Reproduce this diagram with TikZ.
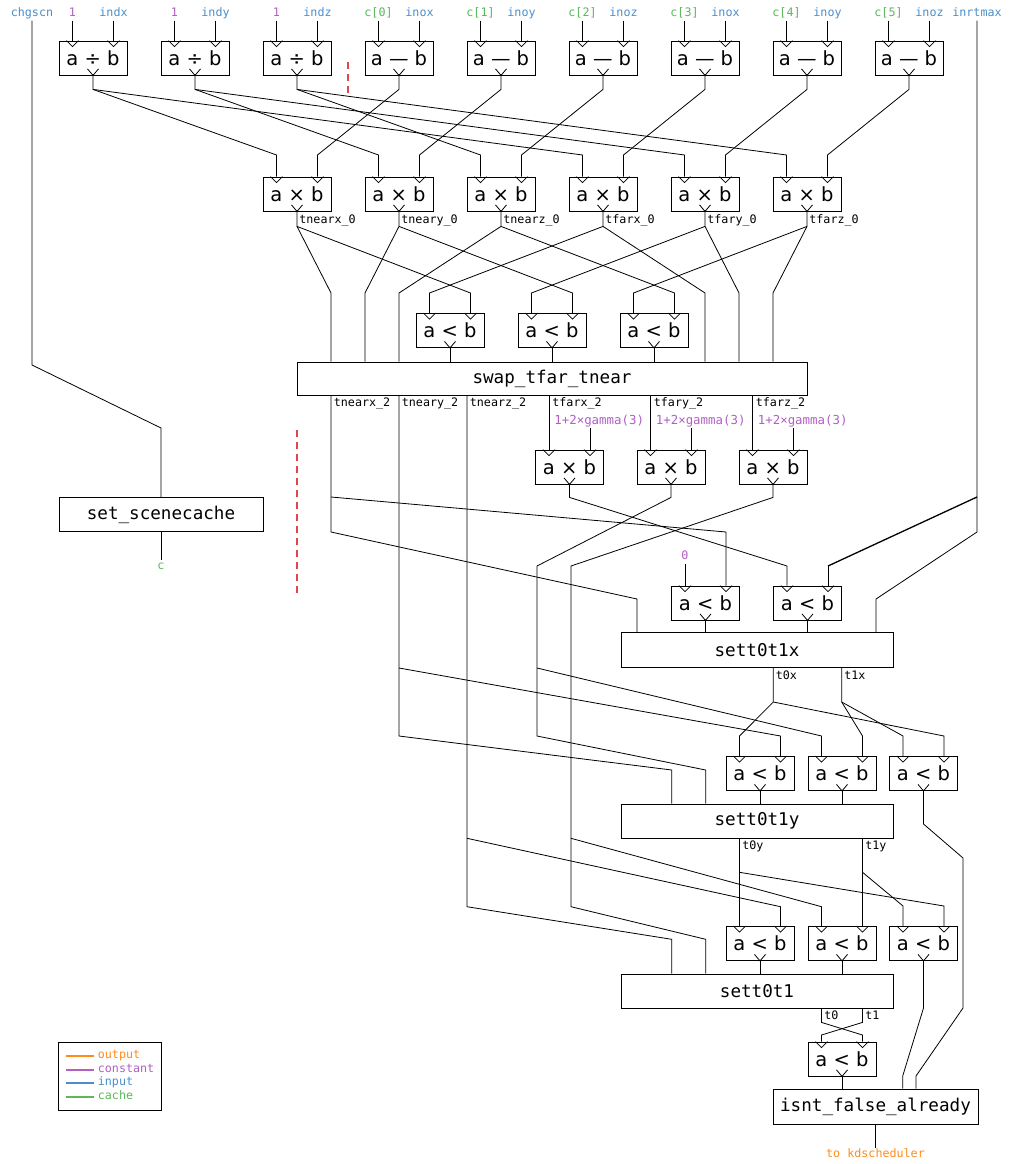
\documentclass[tikz,border=0pt]{standalone}
\usepackage{fontspec}
\setmainfont{DejaVu Sans}
\newfontfamily\monof{DejaVu Sans Mono}
\usetikzlibrary{calc}
\definecolor{cin}{HTML}{4A8FCB}
\definecolor{ccon}{HTML}{B15FC3}
\definecolor{ccache}{HTML}{5BB85B}
\definecolor{cout}{HTML}{FF8C1A}
\definecolor{cred}{HTML}{E0474C}
\newcommand\opfont{\fontsize{19.5}{21}\selectfont}
\newcommand\bigfont{\monof\fontsize{17.6}{20}\selectfont}
\newcommand\labfont{\monof\fontsize{11.7}{13}\selectfont}
\newcommand\gamfont{\monof\fontsize{12.4}{13}\selectfont}
\tikzset{
 opnode/.style={draw, minimum width=68pt, minimum height=34pt, inner sep=0pt, font=\opfont},
 bignode/.style={draw, inner sep=0pt, font=\bigfont},
 lab/.style={inner sep=1pt, font=\labfont, text height=8pt, text depth=2.5pt},
 reddash/.style={draw=cred, line width=1.1pt, dash pattern=on 7pt off 5pt},
 legline/.style={line width=2pt},
}
\newcommand\opbox[4]{%
  \node[opnode] (#1) at (#2,#3) {#4};
  \coordinate (#1-a) at ($(#1.north)+(-20.5,0)$);
  \coordinate (#1-b) at ($(#1.north)+(20.5,0)$);
  \coordinate (#1-o) at (#1.south);
  \draw ($(#1-a)+(-6,0)$) -- ++(6,6) -- ++(6,-6);
  \draw ($(#1-b)+(-6,0)$) -- ++(6,6) -- ++(6,-6);
  \draw ($(#1-o)+(-5.5,-6.5)$) -- (#1-o) -- ++(5.5,-6.5);
}
\begin{document}
\begin{tikzpicture}[x=1pt,y=-1pt,line width=0.8pt]
\fill[white] (0,0) rectangle (1014,1164);
\useasboundingbox (0,0) rectangle (1014,1164);

% ---------- row 1 ----------
\opbox{d1}{93}{58}{a ÷ b}
\opbox{d2}{195}{58}{a ÷ b}
\opbox{d3}{297}{58}{a ÷ b}
\opbox{s1}{399}{58}{a — b}
\opbox{s2}{501}{58}{a — b}
\opbox{s3}{603}{58}{a — b}
\opbox{s4}{705}{58}{a — b}
\opbox{s5}{807}{58}{a — b}
\opbox{s6}{909}{58}{a — b}

% top labels
\node[lab,text=cin] (Lchg) at (32,14) {chgscn};
\node[lab,text=cin] (Linr) at (977,14) {inrtmax};
\node[lab,text=ccon] (Ld1a) at (d1-a |- 0,14) {1};
\node[lab,text=cin] (Ld1b) at (d1-b |- 0,14) {indx};
\node[lab,text=ccon] (Ld2a) at (d2-a |- 0,14) {1};
\node[lab,text=cin] (Ld2b) at (d2-b |- 0,14) {indy};
\node[lab,text=ccon] (Ld3a) at (d3-a |- 0,14) {1};
\node[lab,text=cin] (Ld3b) at (d3-b |- 0,14) {indz};
\node[lab,text=ccache] (Ls1a) at (s1-a |- 0,14) {c[0]};
\node[lab,text=cin] (Ls1b) at (s1-b |- 0,14) {inox};
\node[lab,text=ccache] (Ls2a) at (s2-a |- 0,14) {c[1]};
\node[lab,text=cin] (Ls2b) at (s2-b |- 0,14) {inoy};
\node[lab,text=ccache] (Ls3a) at (s3-a |- 0,14) {c[2]};
\node[lab,text=cin] (Ls3b) at (s3-b |- 0,14) {inoz};
\node[lab,text=ccache] (Ls4a) at (s4-a |- 0,14) {c[3]};
\node[lab,text=cin] (Ls4b) at (s4-b |- 0,14) {inox};
\node[lab,text=ccache] (Ls5a) at (s5-a |- 0,14) {c[4]};
\node[lab,text=cin] (Ls5b) at (s5-b |- 0,14) {inoy};
\node[lab,text=ccache] (Ls6a) at (s6-a |- 0,14) {c[5]};
\node[lab,text=cin] (Ls6b) at (s6-b |- 0,14) {inoz};
\foreach \n in {d1,d2,d3,s1,s2,s3,s4,s5,s6}{
  \draw (L\n a) -- (\n-a);
  \draw (L\n b) -- (\n-b);
}

% ---------- row 2 ----------
\opbox{m1}{297}{194}{a × b}
\opbox{m2}{399}{194}{a × b}
\opbox{m3}{501}{194}{a × b}
\opbox{m4}{603}{194}{a × b}
\opbox{m5}{705}{194}{a × b}
\opbox{m6}{807}{194}{a × b}

\draw (d1-o) -- ++(0,14) coordinate (d1j) -- (m1-a |- 0,155) -- (m1-a);
\draw (d1j) -- (m4-a |- 0,155) -- (m4-a);
\draw (d2-o) -- ++(0,14) coordinate (d2j) -- (m2-a |- 0,155) -- (m2-a);
\draw (d2j) -- (m5-a |- 0,155) -- (m5-a);
\draw (d3-o) -- ++(0,14) coordinate (d3j) -- (m3-a |- 0,155) -- (m3-a);
\draw (d3j) -- (m6-a |- 0,155) -- (m6-a);
\draw (s1-o) -- ++(0,14) -- (m1-b |- 0,155) -- (m1-b);
\draw (s2-o) -- ++(0,14) -- (m2-b |- 0,155) -- (m2-b);
\draw (s3-o) -- ++(0,14) -- (m3-b |- 0,155) -- (m3-b);
\draw (s4-o) -- ++(0,14) -- (m4-b |- 0,155) -- (m4-b);
\draw (s5-o) -- ++(0,14) -- (m5-b |- 0,155) -- (m5-b);
\draw (s6-o) -- ++(0,14) -- (m6-b |- 0,155) -- (m6-b);

\draw[reddash] (348,62) -- (348,97);

\node[lab,anchor=west] (Lm1) at ($(m1-o)+(1,9)$) {tnearx\_0};
\node[lab,anchor=west] (Lm2) at ($(m2-o)+(1,9)$) {tneary\_0};
\node[lab,anchor=west] (Lm3) at ($(m3-o)+(1,9)$) {tnearz\_0};
\node[lab,anchor=west] (Lm4) at ($(m4-o)+(1,9)$) {tfarx\_0};
\node[lab,anchor=west] (Lm5) at ($(m5-o)+(1,9)$) {tfary\_0};
\node[lab,anchor=west] (Lm6) at ($(m6-o)+(1,9)$) {tfarz\_0};

% ---------- row 3 ----------
\opbox{c1}{450}{330.5}{a < b}
\opbox{c2}{552}{330.5}{a < b}
\opbox{c3}{654}{330.5}{a < b}
\node[bignode, minimum width=510pt, minimum height=33pt] (swap) at (552,378.5) {swap\_tfar\_tnear};

\draw (m1-o) -- ++(0,15) coordinate (m1j) -- (331,293) -- (331,0 |- swap.north);
\draw (m1j) -- (c1-b |- 0,293) -- (c1-b);
\draw (m2-o) -- ++(0,15) coordinate (m2j) -- (365,293) -- (365,0 |- swap.north);
\draw (m2j) -- (c2-b |- 0,293) -- (c2-b);
\draw (m3-o) -- ++(0,15) coordinate (m3j) -- (399,293) -- (399,0 |- swap.north);
\draw (m3j) -- (c3-b |- 0,293) -- (c3-b);
\draw (m4-o) -- ++(0,15) coordinate (m4j) -- (705,293) -- (705,0 |- swap.north);
\draw (m4j) -- (c1-a |- 0,293) -- (c1-a);
\draw (m5-o) -- ++(0,15) coordinate (m5j) -- (739,293) -- (739,0 |- swap.north);
\draw (m5j) -- (c2-a |- 0,293) -- (c2-a);
\draw (m6-o) -- ++(0,15) coordinate (m6j) -- (773,293) -- (773,0 |- swap.north);
\draw (m6j) -- (c3-a |- 0,293) -- (c3-a);
\draw (c1-o) -- (c1-o |- swap.north);
\draw (c2-o) -- (c2-o |- swap.north);
\draw (c3-o) -- (c3-o |- swap.north);

% ---------- row 4 ----------
\opbox{g1}{569.5}{467}{a × b}
\opbox{g2}{671}{467}{a × b}
\opbox{g3}{773}{467}{a × b}

\node[lab,anchor=west] (Lw1) at (332.5,404) {tnearx\_2};
\node[lab,anchor=west] (Lw2) at (400.5,404) {tneary\_2};
\node[lab,anchor=west] (Lw3) at (468.5,404) {tnearz\_2};
\node[lab,anchor=west] (Lw4) at (551,404) {tfarx\_2};
\node[lab,anchor=west] (Lw5) at (652.5,404) {tfary\_2};
\node[lab,anchor=west] (Lw6) at (754.5,404) {tfarz\_2};
\node[lab,anchor=west,text=ccon,font=\gamfont] (Lg1) at (553,421.5) {1+2×gamma(3)};
\node[lab,anchor=west,text=ccon,font=\gamfont] (Lg2) at (654.5,421.5) {1+2×gamma(3)};
\node[lab,anchor=west,text=ccon,font=\gamfont] (Lg3) at (756.5,421.5) {1+2×gamma(3)};
\draw (Lg1.south -| g1-b) -- (g1-b);
\draw (Lg2.south -| g2-b) -- (g2-b);
\draw (Lg3.south -| g3-b) -- (g3-b);
\draw (g1-a |- swap.south) -- (g1-a);
\draw (g2-a |- swap.south) -- (g2-a);
\draw (g3-a |- swap.south) -- (g3-a);

\draw[reddash] (297,430) -- (297,595);

% ---------- scene cache ----------
\node[bignode, minimum width=204pt, minimum height=34.5pt] (scene) at (161,514.5) {set\_scenecache};
\draw (Lchg) -- (32,365) -- (161,428) -- (scene.north);
\node[lab,text=ccache] (Lc) at (161,567) {c};
\draw (scene.south) -- (Lc.north);

% ---------- x stage ----------
\opbox{x1}{705.5}{603}{a < b}
\opbox{x2}{807.5}{603}{a < b}
\node[bignode, minimum width=272pt, minimum height=34.5pt] (sx) at (757,650) {sett0t1x};
\node[lab,text=ccon] (L0) at (x1-a |- 0,557) {0};
\draw (L0) -- (x1-a);

\draw (331,0 |- swap.south) -- (331,532) -- (637,599) -- (637,0 |- sx.north);
\draw (331,497) -- (x1-b |- 0,532) -- (x1-b);
\draw (g1-o) -- ++(0,13) -- (x2-a |- 0,566) -- (x2-a);
\draw (Linr) -- (977,532) -- (876,599) -- (876,0 |- sx.north);
\draw[line width=1.3pt] (977,497) -- (x2-b |- 0,566);
\draw (x2-b |- 0,566) -- (x2-b);
\draw (x1-o) -- (x1-o |- sx.north);
\draw (x2-o) -- (x2-o |- sx.north);

% ---------- y stage ----------
\opbox{y1}{760}{773.5}{a < b}
\opbox{y2}{842}{773.5}{a < b}
\opbox{y3}{923.5}{773.5}{a < b}
\node[bignode, minimum width=272pt, minimum height=34pt] (sy) at (757,821) {sett0t1y};

\draw (399,0 |- swap.south) -- (399,736) -- (671.7,770) -- (671.7,0 |- sy.north);
\draw (399,668) -- (y1-b |- 0,736) -- (y1-b);
\draw (g2-o) -- ++(0,13) -- (537,566) -- (537,736) -- (705.7,770) -- (705.7,0 |- sy.north);
\draw (537,668) -- (y2-a |- 0,736) -- (y2-a);

\node[lab,anchor=west] (Lt0x) at (774.5,677) {t0x};
\node[lab,anchor=west] (Lt1x) at (843,677) {t1x};
\draw (773.3,0 |- sx.south) -- (773.3,702) -- (y1-a |- 0,736) -- (y1-a);
\draw (773.3,702) -- (y3-b |- 0,736) -- (y3-b);
\draw (841.7,0 |- sx.south) -- (841.7,702) -- (y2-b |- 0,736) -- (y2-b);
\draw (841.7,702) -- (y3-a |- 0,736) -- (y3-a);
\draw (y1-o) -- (y1-o |- sy.north);
\draw (y2-o) -- (y2-o |- sy.north);

% ---------- z stage ----------
\opbox{z1}{760}{943.5}{a < b}
\opbox{z2}{842}{943.5}{a < b}
\opbox{z3}{923.5}{943.5}{a < b}
\node[bignode, minimum width=272pt, minimum height=34pt] (sz) at (757,991) {sett0t1};

\draw (467,0 |- swap.south) -- (467,906.7) -- (671.7,939.3) -- (671.7,0 |- sz.north);
\draw (467,838.3) -- (z1-b |- 0,906.7) -- (z1-b);
\draw (g3-o) -- ++(0,13) -- (571,566) -- (571,906.7) -- (705.7,939.3) -- (705.7,0 |- sz.north);
\draw (571,838.3) -- (z2-a |- 0,906.7) -- (z2-a);

\node[lab,anchor=west] (Lt0y) at (741,847) {t0y};
\node[lab,anchor=west] (Lt1y) at (864,847) {t1y};
\draw (z1-a |- sy.south) -- (z1-a);
\draw (739.5,872.3) -- (z3-b |- 0,906) -- (z3-b);
\draw (z2-b |- sy.south) -- (z2-b);
\draw (862.5,872.3) -- (z3-a |- 0,906) -- (z3-a);
\draw (z1-o) -- (z1-o |- sz.north);
\draw (z2-o) -- (z2-o |- sz.north);

% ---------- final ----------
\opbox{f1}{842}{1059}{a < b}
\node[bignode, minimum width=205pt, minimum height=35pt] (isnt) at (875.5,1106.5) {isnt\_false\_already};
\node[lab,anchor=west] (Lt0) at (823,1017) {t0};
\node[lab,anchor=west] (Lt1) at (864,1017) {t1};
\draw (f1-a |- sz.south) -- ++(0,14) -- (f1-b |- 0,1035) -- (f1-b);
\draw (f1-b |- sz.south) -- ++(0,14) -- (f1-a |- 0,1035) -- (f1-a);
\draw (f1-o) -- (f1-o |- isnt.north);
\draw (y3-o) -- (923.5,824) -- (963,858) -- (963,1008) -- (916,1076) -- (916,0 |- isnt.north);
\draw (z3-o) -- (923.5,1008) -- (902.7,1076) -- (902.7,0 |- isnt.north);
\node[lab,text=cout] (Lout) at (875.5,1155) {to kdscheduler};
\draw (isnt.south) -- (Lout.north);

% ---------- legend ----------
\node[draw, minimum width=102.4pt, minimum height=67.7pt, anchor=north west, inner sep=0pt] (leg) at (58.3,1042.3) {};
\node[lab,anchor=west,text=cout] (lg1) at (96.5,1055.5) {output};
\node[lab,anchor=west,text=ccon] (lg2) at (96.5,1069.5) {constant};
\node[lab,anchor=west,text=cin] (lg3) at (96.5,1083) {input};
\node[lab,anchor=west,text=ccache] (lg4) at (96.5,1097) {cache};
\coordinate (lk1) at (66,1055.5);
\coordinate (lk2) at (66,1069.5);
\coordinate (lk3) at (66,1083);
\coordinate (lk4) at (66,1097);
\draw[legline,draw=cout] (lk1) -- ($(lg1.west)+(-3,0)$);
\draw[legline,draw=ccon] (lk2) -- ($(lg2.west)+(-3,0)$);
\draw[legline,draw=cin] (lk3) -- ($(lg3.west)+(-3,0)$);
\draw[legline,draw=ccache] (lk4) -- ($(lg4.west)+(-3,0)$);
\end{tikzpicture}
\end{document}
